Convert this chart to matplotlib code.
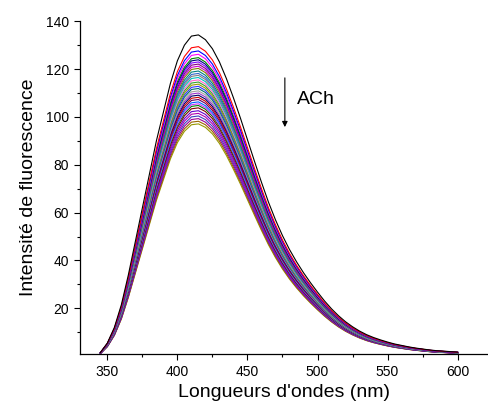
import numpy as np
import matplotlib
matplotlib.use("Agg")
import matplotlib.pyplot as plt
from matplotlib.ticker import MultipleLocator

# wavelength grid (nm) and top (black) spectrum
wavelength = [345, 350, 355, 360, 365, 370, 375, 380, 385, 390, 395, 400, 405,
              410, 415, 420, 425, 430, 435, 440, 445, 450, 455, 460, 465, 470,
              475, 480, 485, 490, 495, 500, 505, 510, 515, 520, 525, 530, 535,
              540, 545, 550, 555, 560, 565, 570, 575, 580, 585, 590, 595, 600]
base_spectrum = [1.5, 5.5, 12.0, 21.5, 34, 48, 62, 76, 90, 102, 114, 123.5, 130,
                 133.8, 134.3, 132.3, 128.5, 123, 116, 108, 99.5, 90.5, 81.5,
                 72.7, 64.4, 57, 50.4, 44.6, 39.5, 34.9, 30.7, 26.8, 23.1,
                 19.8, 16.9, 14.4, 12.3, 10.5, 9.0, 7.8, 6.8, 5.9, 5.1, 4.5,
                 3.9, 3.4, 3.0, 2.6, 2.3, 2.1, 1.9, 1.7]

# peak intensity of each spectrum (successive ACh additions)
peaks = [134.3, 129.4, 127.6, 126.2, 124.8, 123.9, 123.0, 122.1, 121.2, 120.3,
         119.2, 118.2, 117.4, 116.5, 115.5, 114.6, 113.7, 112.8, 111.9, 110.9,
         110.0, 109.1, 108.2, 107.3, 106.3, 105.5, 104.8, 103.8, 102.6, 101.5,
         100.4, 99.3, 98.2, 97.1]

colors = ['#000000', '#FF0000', '#0000FF', '#FF00FF', '#008000', '#000080',
          '#8000FF', '#800080', '#CC00CC', '#808000', '#008080', '#3366CC',
          '#808080', '#00BFBF', '#FF66CC', '#33A033', '#999900', '#3333FF',
          '#007070', '#A0A0A0', '#9933CC', '#000066', '#CC0000', '#660066',
          '#0066FF', '#CC33FF', '#008000', '#800000', '#6600CC', '#B000B0',
          '#4040C0', '#990099', '#996600', '#999900']

plt.rcParams['font.family'] = ['Liberation Sans', 'DejaVu Sans']

fig = plt.figure(figsize=(4.88, 4.09), dpi=100)
ax = fig.add_axes([0.164, 0.135, 0.834, 0.813])

wl = np.array(wavelength)
shape = np.array(base_spectrum) / max(base_spectrum)
for p, c in zip(peaks[::-1], colors[::-1]):
    ax.plot(wl, shape * p, color=c, lw=0.8)

ax.set_xlim(330.5, 621)
ax.set_ylim(1.0, 140)
ax.xaxis.set_major_locator(MultipleLocator(50))
ax.xaxis.set_minor_locator(MultipleLocator(25))
ax.set_yticks([20, 40, 60, 80, 100, 120, 140])
ax.yaxis.set_minor_locator(MultipleLocator(10))
ax.tick_params(which='major', direction='out', length=4.5, width=0.8, labelsize=10)
ax.tick_params(which='minor', direction='out', length=2.5, width=0.8)
ax.spines['top'].set_visible(False)
ax.spines['right'].set_visible(False)
for s in ('left', 'bottom'):
    ax.spines[s].set_linewidth(0.9)

ax.set_xlabel("Longueurs d'ondes (nm)", fontsize=14, labelpad=4)
ax.set_ylabel("Intensité de fluorescence", fontsize=14, labelpad=6)

ax.annotate('', xy=(476.7, 94.6), xytext=(476.7, 117.5),
            arrowprops=dict(arrowstyle='-|>', color='black', lw=0.8,
                            mutation_scale=8))
ax.text(485.5, 107.1, 'ACh', fontsize=14, va='center', ha='left')

fig.savefig('out.png', dpi=100)
